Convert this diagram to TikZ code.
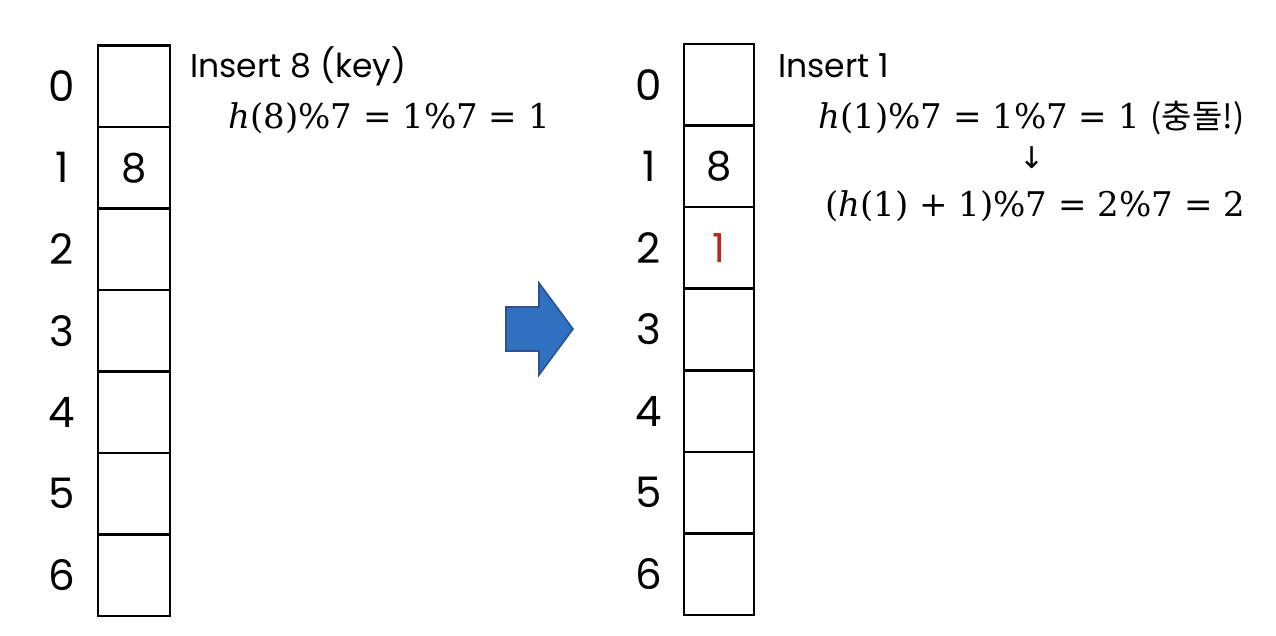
\documentclass[tikz,border=0pt]{standalone}
\usepackage[no-math]{fontspec}
\setmainfont{Poppins}
\newfontfamily\krfont{Noto Sans CJK KR}
\newfontfamily\mathf{DejaVu Serif}
\newfontfamily\symf{DejaVu Sans}
\definecolor{arrowfill}{RGB}{47,112,193}
\definecolor{arrowline}{RGB}{47,82,143}
\definecolor{keyred}{RGB}{184,38,30}
\newcommand{\hv}{{\itshape h}}
\begin{document}
\begin{tikzpicture}[x=0.5pt,y=-0.5pt,
  cell/.style={draw=black,line width=1.2pt,minimum width=36pt,minimum height=40.75pt,inner sep=0pt,font=\fontsize{20}{22}\selectfont},
  idx/.style={inner sep=0pt,font=\fontsize{21}{24}\selectfont},
  title/.style={anchor=base west,inner sep=0pt,font=\fontsize{16.5}{19}\selectfont},
  formula/.style={anchor=base west,inner sep=0pt,font=\mathf\fontsize{17}{20}\selectfont}]
\useasboundingbox (0,0) rectangle (1276,636);
% left table
\foreach \i/\y/\t in {0/86.25/,1/167.75/8,2/249.25/,3/330.75/,4/412.25/,5/493.75/,6/575.25/}{
  \node[cell] (L\i) at (134,\y) {\t};
  \node[idx] (LI\i) at (62,\y) {\i};
}
% right table
\foreach \i/\y/\t in {0/84.8/,1/166.4/8,2/247.9/{\color{keyred}1},3/329.5/,4/411.1/,5/492.6/,6/574.2/}{
  \node[cell,minimum width=35pt] (R\i) at (719,\y) {\t};
  \node[idx] (RI\i) at (649,\y) {\i};
}
% left texts
\node[title] (ltitle) at (190,78) {Insert 8 (key)};
\node[formula] (lform) at (228,129) {\hv(8)\%7 = 1\%7 = 1};
% right texts
\node[title] (rtitle) at (778,78) {Insert 1};
\node[formula] (rform1) at (818,129) {\hv(1)\%7 = 1\%7 = 1 {\krfont\fontsize{16.5}{20}\selectfont(충돌!)}};
\node[inner sep=0pt,font=\symf\fontsize{15}{18}\selectfont] (rarrow) at (1032,158) {↓};
\node[formula] (rform2) at (825,217) {(\hv(1) + 1)\%7 = 2\%7 = 2};
% big arrow
\draw[fill=arrowfill,draw=arrowline,line width=0.8pt,line join=miter]
  (506,307) -- (539,307) -- (539,283) -- (573,329) -- (539,375) -- (539,351) -- (506,351) -- cycle;
\end{tikzpicture}
\end{document}
